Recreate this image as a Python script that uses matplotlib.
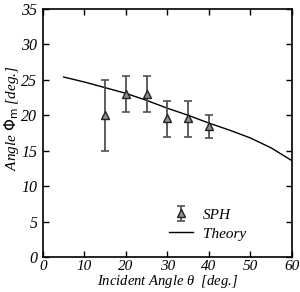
import matplotlib
matplotlib.use("Agg")
import matplotlib.pyplot as plt

plt.rcParams['font.family'] = ['Liberation Serif', 'DejaVu Serif']
plt.rcParams['mathtext.fontset'] = 'custom'
plt.rcParams['mathtext.rm'] = 'DejaVu Sans'
plt.rcParams['mathtext.it'] = 'Liberation Serif:italic'

sph_theta = [15, 20, 25, 30, 35, 40]
sph_phi = [20.0, 23.0, 23.0, 19.6, 19.6, 18.5]
sph_lo = [15.0, 20.5, 20.5, 17.0, 17.0, 16.8]
sph_hi = [25.0, 25.5, 25.5, 22.0, 22.0, 20.0]

theory_theta = [5, 10, 15, 20, 25, 30, 35, 40, 45, 50, 55, 60]
theory_phi = [25.4, 24.7, 23.9, 23.1, 22.1, 21.0, 20.0, 18.9, 17.9, 16.8, 15.4, 13.6]

xticks = [0, 10, 20, 30, 40, 50, 60]
yticks = [0, 5, 10, 15, 20, 25, 30, 35]

fig = plt.figure(figsize=(3.0, 2.92), dpi=100)
ax = fig.add_axes([0.143, 0.12, 0.83, 0.849])

yerr = [[p - l for p, l in zip(sph_phi, sph_lo)], [h - p for p, h in zip(sph_phi, sph_hi)]]
eb = ax.errorbar(sph_theta, sph_phi, yerr=yerr, fmt='^', color='#505050', ecolor='#505050',
                 mfc='#8c8c8c', mec='#222222', ms=5.5, elinewidth=1.3, capsize=3, capthick=1.2,
                 label='SPH', zorder=3)
ln, = ax.plot(theory_theta, theory_phi, color='black', lw=1.0, label='Theory')

ax.set_xlim(0, 60)
ax.set_ylim(0, 35)
ax.set_xticks(xticks)
ax.set_yticks(yticks)
ax.set_xticklabels([str(v) for v in xticks], fontstyle='italic', fontsize=11)
ax.set_yticklabels([str(v) for v in yticks], fontstyle='italic', fontsize=11.5)
ax.tick_params(direction='in', top=True, right=True, length=4, width=1)
ax.tick_params(axis='x', pad=2.5)
ax.tick_params(axis='y', pad=4)
for s in ax.spines.values():
    s.set_linewidth(1.2)

ax.set_xlabel(r'Incident Angle $\theta$  [deg.]', fontstyle='italic', fontsize=10.5,
              va='center')
ax.xaxis.set_label_coords(0.5, -0.10)
ax.set_ylabel(r'Angle $\Phi_{\mathrm{m}}$ [deg.]', fontstyle='italic', fontsize=11,
              va='center')
ax.yaxis.set_label_coords(-0.125, 0.56)

leg = ax.legend([eb, ln], ['SPH', 'Theory'], loc='lower right', bbox_to_anchor=(0.87, 0.01),
                frameon=False,
                prop={'family': 'Liberation Serif', 'style': 'italic', 'size': 11},
                handlelength=1.6, handletextpad=0.6, labelspacing=0.35)

fig.savefig('out.png', dpi=100)
